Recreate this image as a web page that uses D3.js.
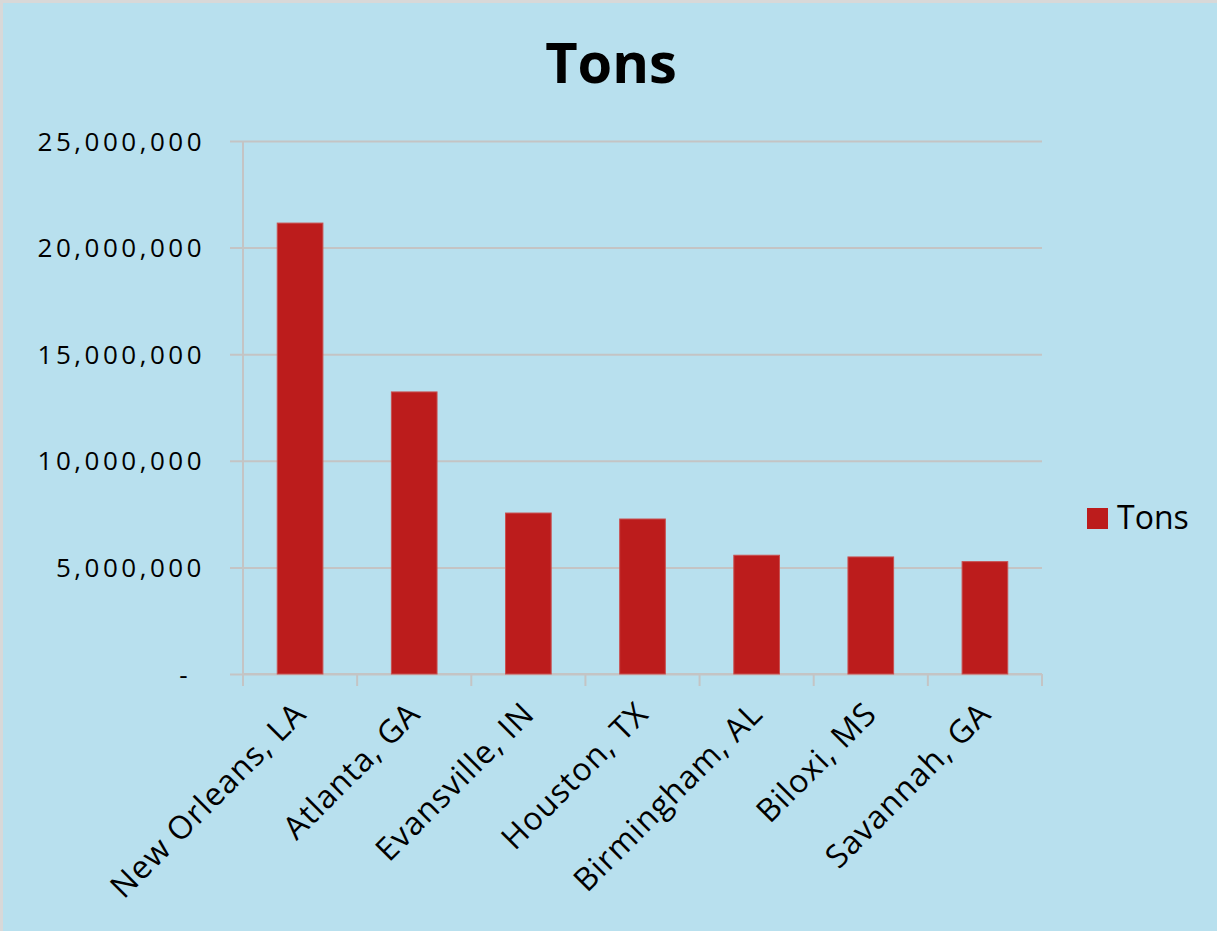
<!DOCTYPE html>
<html>
<head>
<meta charset="utf-8">
<script src="https://cdn.jsdelivr.net/npm/d3@7"></script>
<style>
  body { margin: 0; background: #e8e8e8; }
  text { font-family: "Open Sans", sans-serif; fill: #000; }
</style>
</head>
<body>
<div id="chart"></div>
<script>
const svgWidth = 1217
const svgHeight = 931

// data
const cities = ["New Orleans, LA", "Atlanta, GA", "Evansville, IN", "Houston, TX", "Birmingham, AL", "Biloxi, MS", "Savannah, GA"]
const tons = [21150000, 13230000, 7550000, 7270000, 5570000, 5490000, 5270000]
const yTicks = [0, 5000000, 10000000, 15000000, 20000000, 25000000]
const seriesName = "Tons"

let margin = { top: 141, right: 175, bottom: 257, left: 243 }
let width = svgWidth - margin.left - margin.right
let height = svgHeight - margin.top - margin.bottom

let svg = d3.select("#chart")
  .append("svg")
  .attr("width", svgWidth)
  .attr("height", svgHeight)

// background with thin grey border at top / left
svg.append("rect")
  .attr("width", svgWidth)
  .attr("height", svgHeight)
  .attr("fill", "#d8d8d8")
svg.append("rect")
  .attr("x", 3).attr("y", 3)
  .attr("width", svgWidth - 3)
  .attr("height", svgHeight - 3)
  .attr("fill", "#b8e0ee")

svg.append("text")
  .attr("x", 611)
  .attr("y", 83)
  .attr("text-anchor", "middle")
  .attr("font-size", "56px")
  .attr("font-weight", "bold")
  .text(seriesName)

let chartGroup = svg.append("g")
  .attr("transform", `translate(${margin.left}, ${margin.top})`)

let x = d3.scaleBand()
  .domain(cities)
  .range([0, width])
  .paddingInner(0.6)
  .paddingOuter(0.3)

let y = d3.scaleLinear()
  .domain([0, 25000000])
  .range([height, 0])

let fmt = d3.format(",")

// gridlines + left ticks
let yAxis = chartGroup.append("g")
  .call(d3.axisLeft(y)
    .tickValues(yTicks)
    .tickSize(-width)
    .tickSizeOuter(0)
    .tickPadding(38)
    .tickFormat(d => d === 0 ? "-" : fmt(d)))
yAxis.select(".domain").remove()
yAxis.selectAll("line")
  .attr("x1", -13)
  .attr("stroke", "#c4c4c4")
  .attr("stroke-width", 2)
yAxis.selectAll("text")
  .attr("font-size", "26px")
  .attr("letter-spacing", "3.5px")
  .attr("dy", "0.35em")
  .attr("dx", d => d === 0 ? -14 : 0)

chartGroup.append("line")
  .attr("x1", 0).attr("x2", 0)
  .attr("y1", 0).attr("y2", height + 12)
  .attr("stroke", "#c4c4c4")
  .attr("stroke-width", 2)

// x axis ticks at category boundaries
let step = width / cities.length
chartGroup.append("g")
  .selectAll("line")
  .data(d3.range(cities.length + 1))
  .enter()
  .append("line")
  .attr("x1", i => i * step)
  .attr("x2", i => i * step)
  .attr("y1", height)
  .attr("y2", height + 12)
  .attr("stroke", "#c4c4c4")
  .attr("stroke-width", 2)

chartGroup.append("line")
  .attr("x1", 0).attr("x2", width)
  .attr("y1", height).attr("y2", height)
  .attr("stroke", "#c4c4c4")
  .attr("stroke-width", 2)

chartGroup.selectAll("rect.bar")
  .data(tons)
  .enter()
  .append("rect")
  .classed("bar", true)
  .attr("x", (d, i) => x(cities[i]))
  .attr("y", d => y(d))
  .attr("width", x.bandwidth())
  .attr("height", d => height - y(d))
  .attr("fill", "#bc1c1c")
  .attr("stroke", "#c85050")
  .attr("stroke-width", 1)

chartGroup.selectAll("text.city")
  .data(cities)
  .enter()
  .append("text")
  .classed("city", true)
  .attr("transform", d => `translate(${x(d) + x.bandwidth() / 2 - 8}, ${height + 26}) rotate(-45)`)
  .attr("text-anchor", "end")
  .attr("dy", "0.7em")
  .attr("font-size", "32px")
  .attr("letter-spacing", "1px")
  .text(d => d)

// legend
let legend = svg.append("g")
  .attr("transform", "translate(1087, 508)")
legend.append("rect")
  .attr("width", 21)
  .attr("height", 21)
  .attr("fill", "#bc1c1c")
legend.append("text")
  .attr("x", 30)
  .attr("y", 21)
  .attr("font-size", "32px")
  .text(seriesName)
</script>
</body>
</html>
